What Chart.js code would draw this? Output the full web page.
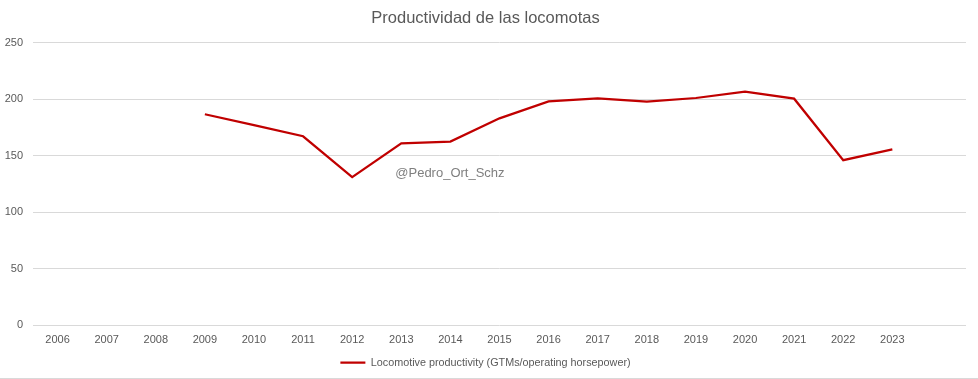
<!DOCTYPE html>
<html>
<head>
<meta charset="utf-8">
<script src="https://cdn.jsdelivr.net/npm/chart.js@4/dist/chart.umd.min.js"></script>
<style>
  html, body { margin: 0; padding: 0; background: #fff; }
  #wrap { position: relative; width: 978px; height: 378px; border-bottom: 1px solid #d9d9d9; }
</style>
</head>
<body>
<div id="wrap"><canvas id="c"></canvas></div>
<script>
const years = ['2006','2007','2008','2009','2010','2011','2012','2013','2014','2015','2016','2017','2018','2019','2020','2021','2022','2023',''];
const productivity = [null, null, null, 186.7, 177, 167.2, 131.0, 161.0, 162.5, 183.1, 198.1, 200.8, 197.9, 201.1, 206.7, 200.5, 146.0, 155.5, null];
const seriesLabel = 'Locomotive productivity (GTMs/operating horsepower)';
const chartTitle = 'Productividad de las locomotas';
const watermark = '@Pedro_Ort_Schz';
const yTicks = [0, 50, 100, 150, 200, 250];

const textColor = '#595959';
const gridColor = '#d9d9d9';
const fontFamily = '"Liberation Sans", Arial, sans-serif';

const watermarkPlugin = {
  id: 'watermark',
  afterDatasetsDraw(chart) {
    const { ctx, scales } = chart;
    const x = scales.x.getPixelForValue(7) - 6;
    const y = scales.y.getPixelForValue(134.3);
    ctx.save();
    ctx.font = '13px ' + fontFamily;
    ctx.fillStyle = '#7f7f7f';
    ctx.textAlign = 'left';
    ctx.textBaseline = 'middle';
    ctx.fillText(watermark, x, y);
    ctx.restore();
  }
};

new Chart(document.getElementById('c'), {
  type: 'line',
  data: {
    labels: years,
    datasets: [{
      label: seriesLabel,
      data: productivity,
      borderColor: '#c00000',
      backgroundColor: '#c00000',
      borderWidth: 2.25,
      pointRadius: 0,
      pointHoverRadius: 0,
      tension: 0,
      spanGaps: false
    }]
  },
  options: {
    responsive: true,
    maintainAspectRatio: false,
    animation: false,
    layout: { padding: { left: 5, right: 12, top: 1, bottom: 0 } },
    plugins: {
      title: {
        display: true,
        text: chartTitle,
        color: textColor,
        font: { family: fontFamily, size: 16.5, weight: 'normal' },
        padding: { top: 8, bottom: 14 }
      },
      legend: {
        position: 'bottom',
        labels: {
          usePointStyle: true,
          pointStyle: 'line',
          pointStyleWidth: 25,
          boxHeight: 11,
          color: textColor,
          font: { family: fontFamily, size: 10.8 },
          padding: 3
        }
      },
      tooltip: { enabled: false }
    },
    scales: {
      x: {
        offset: true,
        grid: { display: false, drawTicks: false, tickLength: 0 },
        border: { display: false },
        ticks: { color: textColor, font: { family: fontFamily, size: 11 }, maxRotation: 0, autoSkip: false, padding: 8 }
      },
      y: {
        min: 0,
        max: 250,
        afterBuildTicks(axis) { axis.ticks = yTicks.map(v => ({ value: v })); },
        afterFit(axis) { axis.width = 28; },
        grid: { color: gridColor, lineWidth: 1, drawTicks: false, tickLength: 0 },
        border: { display: false },
        ticks: { color: textColor, font: { family: fontFamily, size: 11 }, padding: 10 }
      }
    }
  },
  plugins: [watermarkPlugin]
});
</script>
</body>
</html>
